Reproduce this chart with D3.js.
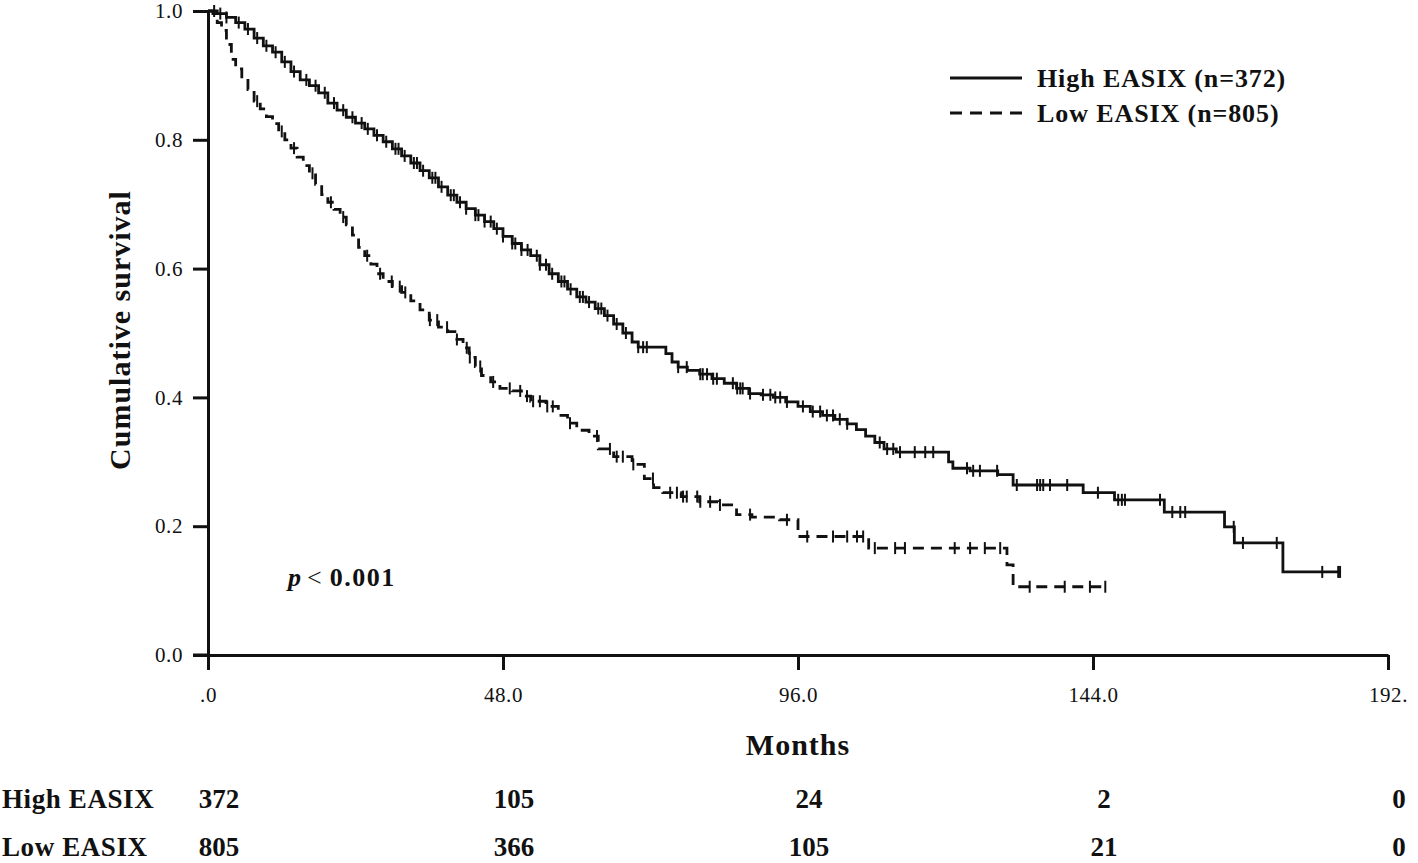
<!DOCTYPE html>
<html><head><meta charset="utf-8">
<script src="https://cdn.jsdelivr.net/npm/d3@7"></script>
<style>body{margin:0;background:#fff;} svg{display:block;}</style>
</head><body>
<svg id="c" width="1418" height="863"></svg>
<script>
// ---------- DATA ----------
const highMonths = [0,1.5,3,4.5,6,7.5,9,10.5,12,13.5,15,16.5,18,19.5,21,22.5,24,25.5,27,28.5,30,31.5,33,34.5,36,37.5,39,40.5,42,43.5,45,46.5,48,49.5,51,52.5,54,55.5,57,58.5,60,61.5,63,64.5,66,67.5,69,70,74.5,75.5,76.5,78,80,82,84,86,88,90,92,94,96,98,100,102,104,105.5,107,108.5,110,112,120.5,121.2,124,128.5,131,142.4,147.5,155.6,165.4,167,174.9,184.2];
const highSurv   = [1.000,0.996,0.990,0.982,0.972,0.958,0.946,0.936,0.921,0.906,0.893,0.884,0.873,0.857,0.846,0.835,0.826,0.817,0.807,0.797,0.786,0.775,0.764,0.752,0.741,0.727,0.714,0.703,0.693,0.683,0.673,0.662,0.650,0.639,0.629,0.620,0.606,0.592,0.580,0.568,0.556,0.548,0.538,0.527,0.514,0.500,0.486,0.478,0.468,0.455,0.447,0.442,0.436,0.429,0.422,0.414,0.406,0.404,0.400,0.393,0.386,0.378,0.372,0.366,0.359,0.350,0.340,0.330,0.320,0.315,0.300,0.290,0.286,0.280,0.264,0.252,0.241,0.222,0.199,0.174,0.129,0.129];
const highCensored = [1,2,3,5,6.5,8,9.5,11,12.5,14,16,17.5,19,20.5,22,23.5,25,26,27.5,29,30.5,31,32,33.5,34,35,36.5,37,38,39.5,40,41,42,43.5,44,45,46,47,48,49.5,50,51,52,53.5,54,55,56,57.5,58,59,60.5,61,62,63.5,64,65,66.5,68,70.0,70.8,71.4,76.5,77.9,80.1,80.5,81.2,82.2,82.8,85.4,86.1,86.6,87.0,88.2,90.3,91.5,92.3,93.1,94.2,96.8,98.4,99.6,100.7,101.7,102.8,104.0,109.3,110.5,111.5,112.6,115.0,116.7,118.0,123.5,124.5,125.6,128.4,131.6,134.9,135.4,135.9,137.0,139.8,144.8,148.1,148.7,149.2,154.9,156.9,158.2,159.0,166.9,168.4,173.9,181.3,183.9,184.2];

const lowMonths = [0,0.8,1.5,2.2,3,3.8,4.5,5.5,6.5,7.5,8.5,9.5,10.5,11.5,12.5,13.5,14.5,15.5,16.5,17.5,18.5,19.5,20.5,21.5,22.5,23.5,24.5,25.5,26.5,27.5,28.5,30,31.5,33,34.5,36,37.5,39,40.5,41.5,42.5,43.5,44.5,46,47.5,49.5,51,52.5,55,57,58.5,60,62,63.5,66,69,71,72.5,74,77,80,83,86,88.5,93,96,107.5,130,131,146.3];
const lowSurv   = [1.000,0.996,0.982,0.970,0.948,0.925,0.910,0.895,0.878,0.860,0.848,0.836,0.825,0.813,0.800,0.787,0.773,0.760,0.748,0.731,0.715,0.703,0.692,0.680,0.668,0.652,0.633,0.620,0.607,0.592,0.580,0.572,0.563,0.550,0.536,0.520,0.509,0.502,0.490,0.477,0.462,0.448,0.434,0.424,0.414,0.410,0.402,0.394,0.386,0.372,0.360,0.349,0.340,0.320,0.308,0.296,0.274,0.260,0.252,0.246,0.238,0.233,0.218,0.214,0.210,0.184,0.166,0.140,0.106,0.106];
const lowCensored = [8,12,14,17,20,22,25.9,28.0,29.9,31.2,32.1,36.1,37.3,38.9,40.5,42.1,42.6,44.3,46.4,49.1,50.8,51.9,52.9,54.0,55.2,56.1,58.9,63.3,65.4,66.5,67.5,69.2,72.4,75.2,76.3,77.3,77.9,79.6,80.1,81.7,83.3,88.2,94.2,97.5,101.7,104.0,105.6,106.6,108.5,111.8,113.4,121.5,124.0,126.4,128.9,133.7,139.4,143.5,146.0];

const seriesNames = ["High EASIX (n=372)", "Low EASIX (n=805)"];
const riskNames = ["High EASIX", "Low EASIX"];
const riskMonths = [0,48,96,144,192];
const riskHigh = [372,105,24,2,0];
const riskLow  = [805,366,105,21,0];

const xTicks = [0,48,96,144,192];
const xTickLabels = [".0","48.0","96.0","144.0","192."];
const yTicks = [0,0.2,0.4,0.6,0.8,1.0];
const yTickLabels = ["0.0","0.2","0.4","0.6","0.8","1.0"];

// ---------- DRAWING ----------
const FONT = "'Liberation Serif','Times New Roman',serif";
const svg = d3.select("#c");
const x = d3.scaleLinear().domain([0,192]).range([208,1388]);
const y = d3.scaleLinear().domain([0,1]).range([655,11]);

function txt(s, px, py, o) {
  return svg.append("text")
    .attr("transform", `translate(${px},${py})` + (o.rot ? ` rotate(${o.rot})` : ""))
    .attr("text-anchor", o.anchor || "start")
    .attr("font-family", FONT)
    .attr("font-size", o.size)
    .attr("font-weight", o.weight || "normal")
    .attr("font-style", o.style || "normal")
    .attr("letter-spacing", o.ls || 0)
    .attr("fill", "#111")
    .text(s);
}

// axes
const yAxis = d3.axisLeft(y).tickValues(yTicks).tickFormat((d,i)=>yTickLabels[i])
  .tickSize(15).tickSizeOuter(0).tickPadding(10);
const gy = svg.append("g").attr("transform", "translate(208,0)").call(yAxis);
const xAxis = d3.axisBottom(x).tickValues(xTicks).tickFormat((d,i)=>xTickLabels[i])
  .tickSize(15).tickSizeOuter(0).tickPadding(17);
const gx = svg.append("g").attr("transform", "translate(0,655)").call(xAxis);
[gx, gy].forEach(g => {
  g.attr("font-family", FONT).attr("font-size", 21);
  g.selectAll("path.domain").attr("stroke", "#111").attr("stroke-width", 3);
  g.selectAll(".tick line").attr("stroke", "#111").attr("stroke-width", 3);
  g.selectAll(".tick text").attr("font-family", FONT).attr("font-size", 21)
    .attr("letter-spacing", 0.6).attr("fill", "#111");
});
// extend x axis line left to meet the 0.0 tick
svg.append("line").attr("x1", 193).attr("x2", 208).attr("y1", y(0)).attr("y2", y(0))
  .attr("stroke", "#111").attr("stroke-width", 3);

// axis titles
txt("Cumulative survival", 130, 330, {size: 30, weight: "bold", anchor: "middle", rot: -90, ls: 1});
txt("Months", 798, 755, {size: 30, weight: "bold", anchor: "middle", ls: 1});

// KM curves
function stepAt(times, surv, t) {
  const i = d3.bisectRight(times, t) - 1;
  return surv[Math.max(0, i)];
}
const line = d3.line().x(d => x(d[0])).y(d => y(d[1])).curve(d3.curveStepAfter);

function drawKM(times, surv, cens, dash) {
  const pts = times.map((t,i) => [t, surv[i]]);
  svg.append("path").attr("d", line(pts)).attr("fill", "none")
    .attr("stroke", "#111").attr("stroke-width", 2.8)
    .attr("stroke-dasharray", dash || null);
  svg.append("g").selectAll("line").data(cens).join("line")
    .attr("x1", d => x(d)).attr("x2", d => x(d))
    .attr("y1", d => y(stepAt(times, surv, d)) - 6)
    .attr("y2", d => y(stepAt(times, surv, d)) + 6)
    .attr("stroke", "#111").attr("stroke-width", 2);
}
drawKM(highMonths, highSurv, highCensored, null);
drawKM(lowMonths, lowSurv, lowCensored, "11,7");

// legend
const legY = [78, 113];
svg.append("line").attr("x1", 950).attr("x2", 1022).attr("y1", legY[0]).attr("y2", legY[0])
  .attr("stroke", "#111").attr("stroke-width", 2.8);
svg.append("line").attr("x1", 950).attr("x2", 1024).attr("y1", legY[1]).attr("y2", legY[1])
  .attr("stroke", "#111").attr("stroke-width", 2.8).attr("stroke-dasharray", "12,8");
seriesNames.forEach((s,i) => txt(s, 1037, legY[i] + 9, {size: 26, weight: "bold", ls: 0.9}));

// p-value
const pt = svg.append("text").attr("transform", "translate(288,586)")
  .attr("font-family", FONT).attr("font-size", 26).attr("fill", "#111");
pt.append("tspan").attr("font-style", "italic").attr("font-weight", "bold").text("p");
pt.append("tspan").attr("font-weight", "normal").attr("dx", 6).text("<");
pt.append("tspan").attr("font-weight", "bold").attr("dx", 8).attr("letter-spacing", 1.5).text("0.001");

// risk table
const riskRows = [riskHigh, riskLow];
const riskY = [808, 856];
riskRows.forEach((row, r) => {
  txt(riskNames[r], 2, riskY[r], {size: 27, weight: "bold", ls: 0.6});
  row.forEach((v, i) => txt(String(v), x(riskMonths[i]) + 11, riskY[r], {size: 27, weight: "bold", anchor: "middle"}));
});
</script></body></html>
